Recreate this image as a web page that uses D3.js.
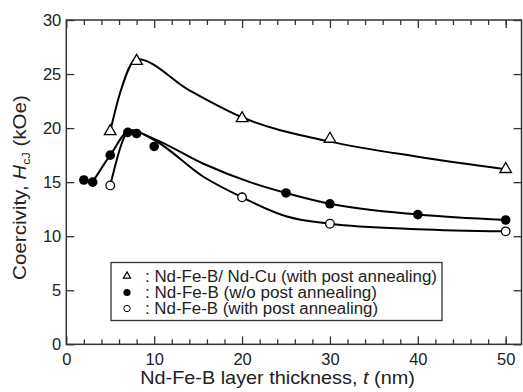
<!DOCTYPE html>
<html>
<head>
<meta charset="utf-8">
<script src="https://cdn.jsdelivr.net/npm/d3@7"></script>
<style>
body { margin: 0; background: #fff; }
svg { display: block; }
text { font-family: "Liberation Sans", Arial, Helvetica, sans-serif; fill: #222; }
</style>
</head>
<body>
<div id="chart"></div>
<script>
// measured points
var triT = [5, 8, 20, 30, 50];
var triH = [19.7, 26.2, 20.9, 19.0, 16.2];
var fillT = [2, 3, 5, 7, 8, 10, 25, 30, 40, 50];
var fillH = [15.2, 15.0, 17.5, 19.6, 19.5, 18.3, 14.0, 13.0, 12.0, 11.5];
var openT = [5, 20, 30, 50];
var openH = [14.7, 13.6, 11.15, 10.45];

// guide curves drawn in the figure
var triFitT = [5, 6.1, 8, 14, 20, 30, 40, 50];
var triFitH = [19.7, 23.2, 26.4, 23.5, 21.0, 18.75, 17.35, 16.2];
var fillFitT = [3, 5, 7.3, 10, 15.6, 20.9, 25, 30, 40, 50];
var fillFitH = [15.0, 17.5, 19.8, 19.0, 16.7, 15.0, 14.0, 13.0, 12.0, 11.5];
var openFitT = [5, 7.3, 10, 15.6, 20, 25, 30, 40, 50];
var openFitH = [14.7, 19.8, 18.9, 15.5, 13.6, 11.85, 11.15, 10.65, 10.45];

var xMajor = [0, 10, 20, 30, 40, 50];
var xMinor = [2, 4, 6, 8, 12, 14, 16, 18, 22, 24, 26, 28, 32, 34, 36, 38, 42, 44, 46, 48, 50];
var yMajor = [0, 5, 10, 15, 20, 25, 30];

var legendLabels = [": Nd-Fe-B/ Nd-Cu (with post annealing)",
                    ": Nd-Fe-B (w/o post annealing)",
                    ": Nd-Fe-B (with post annealing)"];

var W = 523, H = 392;
var svg = d3.select("#chart").append("svg").attr("width", W).attr("height", H);

var x = d3.scaleLinear().domain([0, 51.8]).range([66.3, 66.3 + 51.8 * 8.788]);
var y = d3.scaleLinear().domain([0, 30]).range([344.3, 20]);

function zip(a, b) { return a.map(function(v, i) { return [v, b[i]]; }); }

// axes (ticks inward on all four sides)
svg.append("g").attr("transform", "translate(0," + y(0) + ")")
  .call(d3.axisBottom(x).tickValues(xMajor).tickSize(-8).tickPadding(9).tickFormat(d3.format("d")));
svg.append("g").attr("transform", "translate(0," + y(0) + ")")
  .call(d3.axisBottom(x).tickValues(xMinor).tickSize(-5).tickFormat(""));
svg.append("g").attr("transform", "translate(0," + y(30) + ")")
  .call(d3.axisTop(x).tickValues(xMajor).tickSize(-8).tickFormat(""));
svg.append("g").attr("transform", "translate(0," + y(30) + ")")
  .call(d3.axisTop(x).tickValues(xMinor).tickSize(-5).tickFormat(""));
svg.append("g").attr("transform", "translate(" + x(0) + ",0)")
  .call(d3.axisLeft(y).tickValues(yMajor).tickSize(-8).tickPadding(5).tickFormat(d3.format("d")));
svg.append("g").attr("transform", "translate(" + x(51.8) + ",0)")
  .call(d3.axisRight(y).tickValues(yMajor).tickSize(-8).tickFormat(""));

svg.selectAll(".domain").remove();
svg.selectAll(".tick line").attr("stroke", "#333").attr("stroke-width", 1.3);
svg.selectAll(".tick text").style("font-size", "16.5px").attr("fill", "#222");

// frame
svg.append("rect")
  .attr("x", x(0)).attr("y", y(30))
  .attr("width", x(51.8) - x(0)).attr("height", y(0) - y(30))
  .attr("fill", "none").attr("stroke", "#333").attr("stroke-width", 1.5);

// curves
var line = d3.line().x(function(d) { return x(d[0]); }).y(function(d) { return y(d[1]); })
  .curve(d3.curveMonotoneX);
[[triFitT, triFitH], [fillFitT, fillFitH], [openFitT, openFitH]].forEach(function(c) {
  svg.append("path").datum(zip(c[0], c[1]))
    .attr("d", line).attr("fill", "none").attr("stroke", "#000").attr("stroke-width", 2);
});

// markers
var tri = d3.symbol().type(d3.symbolTriangle).size(58);
svg.selectAll(".tri").data(zip(triT, triH)).enter().append("path")
  .attr("class", "tri").attr("d", tri)
  .attr("transform", function(d) { return "translate(" + x(d[0]) + "," + y(d[1]) + ")"; })
  .attr("fill", "#fff").attr("stroke", "#000").attr("stroke-width", 1.3);
svg.selectAll(".fc").data(zip(fillT, fillH)).enter().append("circle")
  .attr("cx", function(d) { return x(d[0]); }).attr("cy", function(d) { return y(d[1]); })
  .attr("r", 4.8).attr("fill", "#000");
svg.selectAll(".oc").data(zip(openT, openH)).enter().append("circle")
  .attr("cx", function(d) { return x(d[0]); }).attr("cy", function(d) { return y(d[1]); })
  .attr("r", 4.3).attr("fill", "#fff").attr("stroke", "#000").attr("stroke-width", 1.3);

// legend
var lg = svg.append("g");
lg.append("rect").attr("x", 111).attr("y", 262.5).attr("width", 331).attr("height", 58)
  .attr("fill", "#fff").attr("stroke", "#333").attr("stroke-width", 1.3);
lg.append("path").attr("d", d3.symbol().type(d3.symbolTriangle).size(22))
  .attr("transform", "translate(127,276)").attr("fill", "#fff").attr("stroke", "#000").attr("stroke-width", 1.2);
lg.append("circle").attr("cx", 127).attr("cy", 292.5).attr("r", 3.6).attr("fill", "#000");
lg.append("circle").attr("cx", 127).attr("cy", 308.5).attr("r", 3.2)
  .attr("fill", "#fff").attr("stroke", "#000").attr("stroke-width", 1);
var legendWidths = [292, 232, 233];
lg.selectAll(".lt").data(legendLabels).enter().append("text")
  .attr("x", 145).attr("y", function(d, i) { return 281.5 + i * 16.2; })
  .attr("textLength", function(d, i) { return legendWidths[i]; })
  .attr("lengthAdjust", "spacingAndGlyphs")
  .style("font-size", "16px").text(function(d) { return d; });

// axis titles, stretched a little sideways like the original typesetting
function stretch(g, text, target) {
  var w = text.node().getComputedTextLength();
  text.attr("transform", "scale(" + (target / w) + ",1)");
}

var xg = svg.append("g").attr("transform", "translate(277.5,383.5)");
var xt = xg.append("text").attr("text-anchor", "middle").style("font-size", "18px");
xt.append("tspan").text("Nd-Fe-B layer thickness, ");
xt.append("tspan").attr("font-style", "italic").text("t");
xt.append("tspan").text(" (nm)");
stretch(xg, xt, 275);

var yg = svg.append("g").attr("transform", "translate(26,187.5) rotate(-90)");
var yt = yg.append("text").attr("text-anchor", "middle").style("font-size", "18px");
yt.append("tspan").text("Coercivity, ");
yt.append("tspan").attr("font-style", "italic").text("H");
yt.append("tspan").attr("dy", 4).style("font-size", "11px").text("cJ");
yt.append("tspan").attr("dy", -4).text(" (kOe)");
stretch(yg, yt, 185);
</script>
</body>
</html>
